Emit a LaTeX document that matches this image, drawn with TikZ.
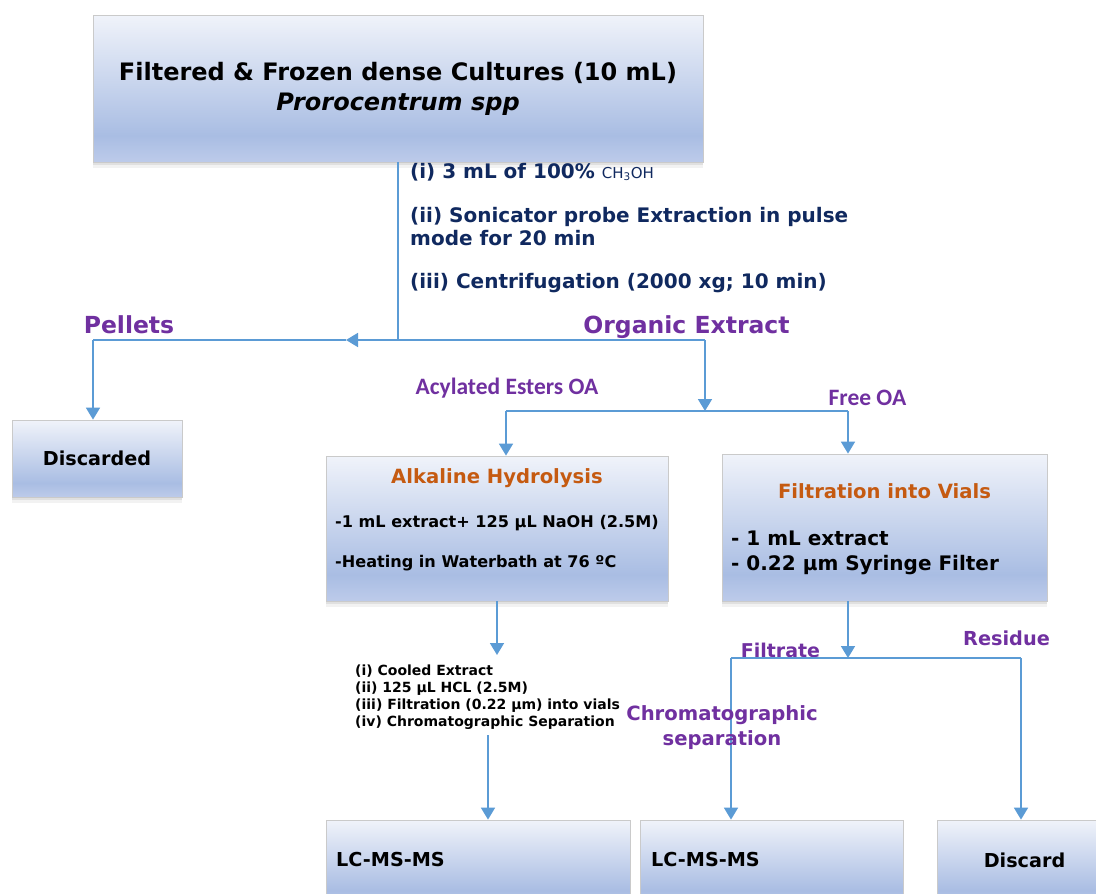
\documentclass[tikz,border=0pt]{standalone}
\usepackage{fontspec}
\setmainfont{DejaVu Sans}
\newfontfamily\calfont{Carlito}
\usetikzlibrary{arrows.meta}

\definecolor{flowblue}{HTML}{5B9BD5}
\definecolor{labpurple}{HTML}{7030A0}
\definecolor{headorange}{HTML}{C55A11}
\definecolor{stepnavy}{HTML}{10295F}
\definecolor{boxedge}{HTML}{CACACA}
\definecolor{shadeTop}{HTML}{F0F3FA}
\definecolor{shadeMid}{HTML}{A9BDE3}
\definecolor{shadeBot}{HTML}{BDCBEA}

\pgfdeclareverticalshading{procshade}{100bp}{color(0bp)=(shadeBot); color(25bp)=(shadeBot); color(34bp)=(shadeMid); color(75bp)=(shadeTop); color(100bp)=(shadeTop)}

\tikzset{
  procbox/.style={draw=boxedge, line width=0.8pt, shading=procshade,
    preaction={fill=black, opacity=0.05, transform canvas={yshift=-6pt}},
    preaction={fill=black, opacity=0.07, transform canvas={yshift=-3pt}},
    inner sep=0pt},
  flow/.style={draw=flowblue, line width=1.8pt},
  flowarrow/.style={flow, -{Triangle[length=12pt,width=14pt]}},
  txt/.style={inner sep=0pt, text=black},
  purplelab/.style={inner sep=0pt, text=labpurple, font=\fontsize{23.5}{27}\selectfont\bfseries},
  purplethin/.style={inner sep=0pt, text=labpurple, font=\calfont\fontsize{23.5}{27}\selectfont\bfseries},
  steptxt/.style={inner sep=0pt, text=stepnavy, font=\fontsize{20}{23}\selectfont\bfseries, align=left, anchor=west},
  headtxt/.style={inner sep=0pt, text=headorange, font=\fontsize{19.6}{23}\selectfont\bfseries},
  boxlabel/.style={inner sep=0pt, text=black, font=\fontsize{19.2}{23}\selectfont\bfseries},
}

\begin{document}
\begin{tikzpicture}[x=1pt, y=-1pt]
\useasboundingbox (0,0) rectangle (1096,894);
\fill[white] (0,0) rectangle (1096,894);

% process boxes
\node[procbox, minimum width=610pt, minimum height=147pt, font=\fontsize{24}{30}\selectfont\bfseries, align=center]
  (culture) at (398,88.5) {Filtered \& Frozen dense Cultures (10 mL)\\\textit{Prorocentrum spp}};
\node[procbox, minimum width=170pt, minimum height=77pt, font=\fontsize{19.2}{23}\selectfont\bfseries]
  (discarded) at (97,458.5) {Discarded};
\node[procbox, minimum width=342pt, minimum height=145pt] (alkaline) at (497,528.5) {};
\node[procbox, minimum width=325pt, minimum height=147pt] (filtration) at (884.5,527.5) {};
\node[procbox, minimum width=304pt, minimum height=86pt] (lcA) at (478,863) {};
\node[procbox, minimum width=263pt, minimum height=86pt] (lcB) at (771.5,863) {};
\node[procbox, minimum width=180pt, minimum height=86pt] (discard) at (1027,863) {};

% texts inside the boxes
\node[headtxt] (alkHead) at (497,478) {Alkaline Hydrolysis};
\node[txt, anchor=west, font=\fontsize{16.1}{19}\selectfont\bfseries] (alkOne) at (335,523) {-1 mL extract+ 125 µL NaOH (2.5M)};
\node[txt, anchor=west, font=\fontsize{16.1}{19}\selectfont\bfseries] (alkTwo) at (335,563) {-Heating in Waterbath at 76 ºC};
\node[headtxt] (filtHead) at (884.5,491) {Filtration into Vials};
\node[txt, anchor=west, font=\fontsize{20}{25}\selectfont\bfseries, align=left] (filtBody) at (731,552.5) {- 1 mL extract\\- 0.22 µm Syringe Filter};
\node[boxlabel, anchor=west] (lcAText) at (336,860) {LC-MS-MS};
\node[boxlabel, anchor=west] (lcBText) at (651,860) {LC-MS-MS};
\node[boxlabel] (discardText) at (1024.5,860) {Discard};

% extraction steps
\node[steptxt] (stepOne) at (410,172) {(i) 3 mL of 100\% {\mdseries\fontsize{15}{18}\selectfont CH\textsubscript{3}OH}};
\node[steptxt] (stepTwo) at (410,226.5) {(ii) Sonicator probe Extraction in pulse\\mode for 20 min};
\node[steptxt] (stepThree) at (410,283) {(iii) Centrifugation (2000 xg; 10 min)};

% branch labels
\node[purplelab] (pellets) at (129,325) {Pellets};
\node[purplelab] (organic) at (686.5,327) {Organic Extract};
\node[purplethin] (acylated) at (507,388) {Acylated Esters OA};
\node[purplethin] (freeOA) at (867.5,398) {Free OA};
\node[purplelab, font=\fontsize{19}{22}\selectfont\bfseries] (filtrate) at (780.5,650) {Filtrate};
\node[purplelab, font=\fontsize{19.3}{22}\selectfont\bfseries] (residue) at (1006.5,638) {Residue};

% junction points
\coordinate (splitTop) at (398,340);
\coordinate (pelTip) at (346,340);
\coordinate (pelCorner) at (93,340);
\coordinate (orgCorner) at (705,340);
\coordinate (orgTip) at (705,411);
\coordinate (acylCorner) at (506,411);
\coordinate (freeCorner) at (848,411);
\coordinate (alkTip) at (497,655);
\coordinate (listEnd) at (488,735);
\coordinate (filtTip) at (848,658);
\coordinate (filtrateCorner) at (731,658);
\coordinate (residueCorner) at (1021,658);

% connectors
\draw[flow] (culture.south -| splitTop) -- (splitTop) -- (orgCorner);
\draw[flowarrow] (splitTop) -- (pelTip);
\draw[flow] (pelTip) -- (pelCorner);
\draw[flowarrow] (pelCorner) -- (discarded.north -| pelCorner);
\draw[flowarrow] (orgCorner) -- (orgTip);
\draw[flow] (acylCorner) -- (freeCorner);
\draw[flowarrow] (acylCorner) -- (alkaline.north -| acylCorner);
\draw[flowarrow] (freeCorner) -- (filtration.north -| freeCorner);
\draw[flowarrow] (alkaline.south -| alkTip) -- (alkTip);
\draw[flowarrow] (listEnd) -- (lcA.north -| listEnd);
\draw[flowarrow] (filtration.south -| filtTip) -- (filtTip);
\draw[flow] (filtrateCorner) -- (residueCorner);
\draw[flowarrow] (filtrateCorner) -- (lcB.north -| filtrateCorner);
\draw[flowarrow] (residueCorner) -- (discard.north -| residueCorner);

% acid work-up list and chromatography label
\node[txt, anchor=north west, align=left, font=\fontsize{14}{17}\selectfont\bfseries] (acidList) at (355,665)
  {(i) Cooled Extract\\(ii) 125 µL HCL (2.5M)\\(iii) Filtration (0.22 µm) into vials\\(iv) Chromatographic Separation};
\node[purplelab, font=\fontsize{19.6}{25}\selectfont\bfseries, align=center] (chromLabel) at (722,727.5) {Chromatographic\\separation};
\end{tikzpicture}
\end{document}
